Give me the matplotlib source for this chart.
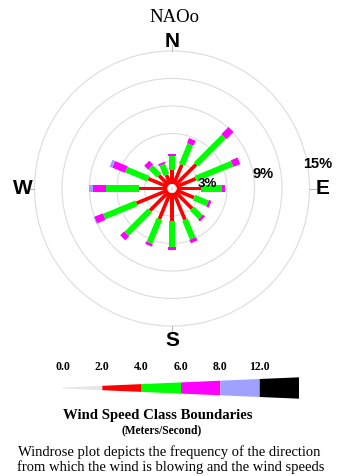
import numpy as np
import matplotlib
matplotlib.use('Agg')
import matplotlib.pyplot as plt
from matplotlib.patches import Polygon, Circle

# wind rose: frequency (%) per direction, split by speed class
directions = np.arange(0, 360, 22.5)   # N, NNE, NE ... NNW
calm_pct = 0.45
spd_lt2  = [0.5, 0.5, 0.5, 0.5, 0.5, 0.5, 0.5, 0.5, 0.5, 0.5, 0.5, 0.5, 0.5, 0.5, 0.5, 0.5]
spd_2_4  = [1.5, 2.3, 3.2, 2.3, 2.7, 2.1, 2.6, 3.2, 3.0, 3.1, 2.9, 3.7, 3.1, 2.3, 1.5, 1.1]
spd_4_6  = [1.5, 2.4, 4.3, 4.3, 2.3, 1.6, 1.3, 2.2, 2.9, 2.8, 3.6, 3.8, 3.6, 2.6, 1.3, 1.2]
spd_6_8  = [0.3, 0.6, 1.1, 0.8, 0.3, 0.3, 0.3, 0.4, 0.3, 0.3, 0.6, 1.0, 1.4, 1.5, 0.6, 0.2]
spd_8_12 = [0.0, 0.0, 0.0, 0.0, 0.0, 0.0, 0.0, 0.0, 0.0, 0.0, 0.0, 0.1, 0.5, 0.3, 0.0, 0.0]
classes = [spd_lt2, spd_2_4, spd_4_6, spd_6_8, spd_8_12]
class_colors = ['#e6e6e6', '#ff0000', '#00ff00', '#ff00ff', '#a0a0ff', '#000000']
class_widths = [0.14, 0.40, 0.66, 0.78, 0.82]

rings = [3, 6, 9, 12, 15]
ring_labels = ['3%', '', '9%', '', '15%']
compass = ['N', 'E', 'S', 'W']
compass_az = [0, 90, 180, 270]
compass_r = [16.0, 16.45, 16.55, 16.25]

speed_bounds = ['0.0', '2.0', '4.0', '6.0', '8.0', '12.0']

W, H = 337, 476
fig = plt.figure(figsize=(W/100, H/100), dpi=100)
fig.patch.set_facecolor('white')

# rose axes fills the figure, 9.17 px per percent, centre at (172, 188.5) px
ppp = 9.17
cx, cy = 172, 188.5
ax = fig.add_axes([0, 0, 1, 1])
ax.set_xlim(-cx/ppp, (W-cx)/ppp)
ax.set_ylim(-(H-cy)/ppp, cy/ppp)
ax.axis('off')

for r in rings:
    ax.add_patch(Circle((0, 0), r, fill=False, ec='#dcdcdc', lw=0.8))
for az in compass_az:
    a = np.radians(az)
    ax.plot([15*np.sin(a), 15.7*np.sin(a)], [15*np.cos(a), 15.7*np.cos(a)],
            color='#bbbbbb', lw=0.8)

def bar(az, r0, r1, w, color):
    a = np.radians(az)
    u = np.array([np.sin(a), np.cos(a)])
    p = np.array([np.cos(a), -np.sin(a)])
    pts = [r0*u + w/2*p, r1*u + w/2*p, r1*u - w/2*p, r0*u - w/2*p]
    ax.add_patch(Polygon(pts, closed=True, fc=color, ec='none', zorder=3))

for i, az in enumerate(directions):
    r0 = 0.0
    for k, cls in enumerate(classes):
        v = cls[i]
        if v > 0:
            bar(az, r0, r0 + v, class_widths[k], class_colors[k])
        r0 += v

ax.add_patch(Circle((0, 0), calm_pct, fc='white', ec='#e0e0e0', lw=0.6, zorder=4))
ax.add_patch(Circle((0, 0), 0.12, fc='#d0d0d0', ec='none', zorder=5))

for r, lab in zip(rings, ring_labels):
    if lab:
        fs = 10.5 if r > 3 else 9.5
        ax.text(r + 0.9, 0.18*r, lab, ha='center', va='center', fontsize=fs,
                fontweight='bold', family='Liberation Sans', zorder=6)

for lab, az, r in zip(compass, compass_az, compass_r):
    a = np.radians(az)
    ax.text(r*np.sin(a), r*np.cos(a), lab, ha='center', va='center',
            fontsize=15, fontweight='bold', family='Liberation Sans')

fig.text(174/W, 1 - 18/H, 'NAOo', ha='center', va='center', fontsize=13.5,
         family='Liberation Serif')

# speed class legend: tapering band, 2 m/s steps then 8-12 and >12
lx0, lx1, ly = 63, 299, 388
lax = fig.add_axes([lx0/W, 1 - (ly + 14)/H, (lx1 - lx0)/W, 28/H])
n_cls = len(speed_bounds)
lax.set_xlim(0, n_cls)
lax.set_ylim(-14, 14)
lax.axis('off')
h = lambda x: (1.0 + 3.4*x) / 2
for k in range(n_cls):
    x0, x1 = k, k + 1
    lax.add_patch(Polygon([(x0, -h(x0)), (x1, -h(x1)), (x1, h(x1)), (x0, h(x0))],
                          closed=True, fc=class_colors[k], ec='none'))
for k, lab in enumerate(speed_bounds):
    fig.text((lx0 + k*(lx1 - lx0)/n_cls)/W, 1 - 366.5/H, lab, ha='center', va='center',
             fontsize=8.5, fontweight='bold', family='Liberation Serif')

fig.text(158/W, 1 - 415/H, 'Wind Speed Class Boundaries', ha='center', va='center',
         fontsize=10.6, fontweight='bold', family='Liberation Serif')
fig.text(162/W, 1 - 430.5/H, '(Meters/Second)', ha='center', va='center',
         fontsize=8.3, fontweight='bold', family='Liberation Serif')
fig.text(169/W, 1 - 452/H, 'Windrose plot depicts the frequency of the direction',
         ha='center', va='center', fontsize=10.5, family='Liberation Serif')
fig.text(170.5/W, 1 - 467/H, 'from which the wind is blowing and the wind speeds',
         ha='center', va='center', fontsize=10.5, family='Liberation Serif')

fig.savefig('out.png', dpi=100)
